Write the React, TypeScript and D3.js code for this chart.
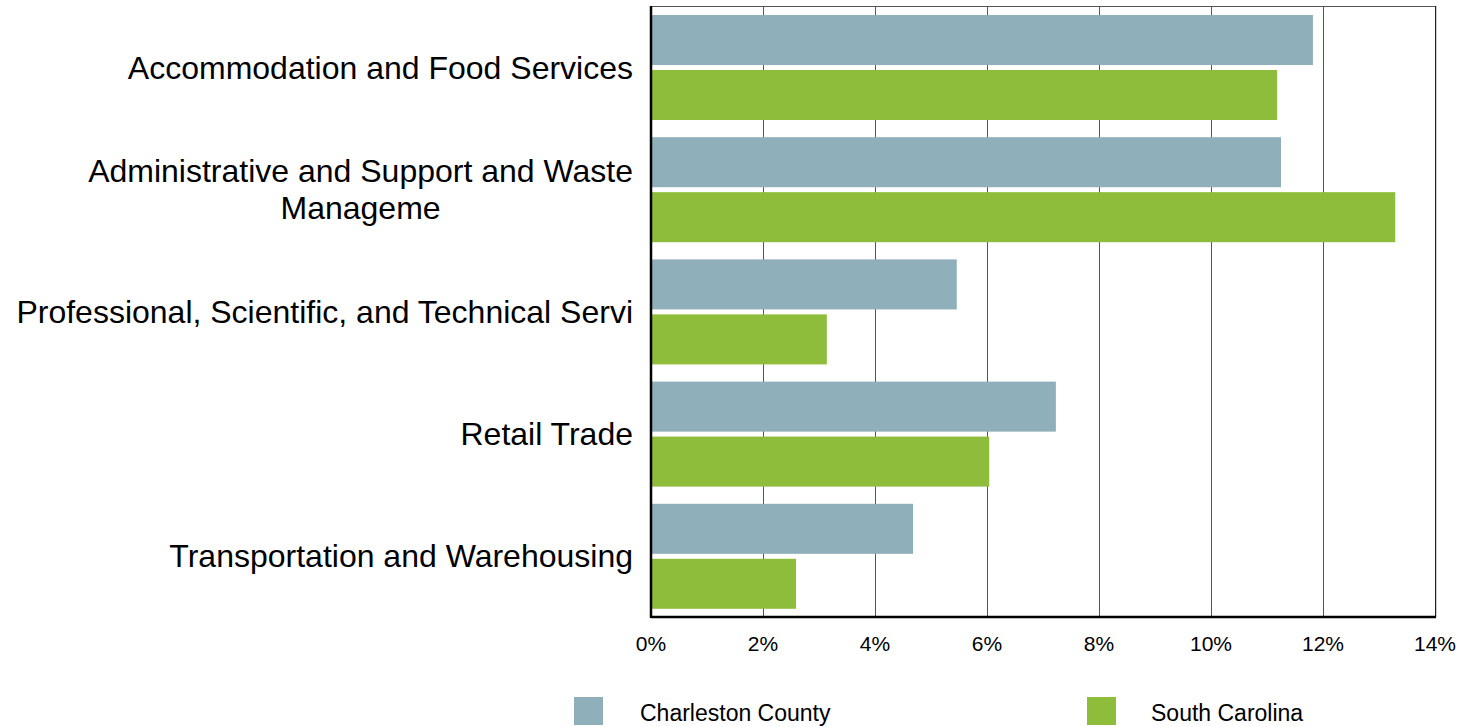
import React, { useEffect, useRef } from "react";
import * as d3 from "d3";

const categories: string[][] = [
  ["Accommodation and Food Services"],
  ["Administrative and Support and Waste", "Manageme"],
  ["Professional, Scientific, and Technical Servi"],
  ["Retail Trade"],
  ["Transportation and Warehousing"],
];
const seriesNames = ["Charleston County", "South Carolina"];
const charleston = [11.82, 11.25, 5.46, 7.23, 4.68];
const southCarolina = [11.18, 13.29, 3.14, 6.04, 2.59];
const xTicks = [0, 2, 4, 6, 8, 10, 12, 14];
const colors = ["#8fafba", "#8ebd3c"];

const W = 1473;
const H = 727;
const L = 651;
const R = 1435;
const T = 6;
const B = 617;
const FONT = "'Liberation Sans', Arial, sans-serif";

export default function App() {
  const ref = useRef<SVGSVGElement | null>(null);

  useEffect(() => {
    const svg = d3.select(ref.current);
    svg.selectAll("*").remove();

    const x = d3.scaleLinear().domain([0, 14]).range([L, R]);
    const y = d3
      .scaleBand<number>()
      .domain(categories.map((_, i) => i))
      .range([T, B])
      .padding(0);
    const inner = d3
      .scaleBand<number>()
      .domain([0, 1])
      .range([9, 114])
      .paddingInner(0.09)
      .paddingOuter(0);

    // grid
    svg
      .append("g")
      .selectAll("line")
      .data(xTicks.slice(1, -1))
      .join("line")
      .attr("x1", (d) => Math.round(x(d)) + 0.5)
      .attr("x2", (d) => Math.round(x(d)) + 0.5)
      .attr("y1", T)
      .attr("y2", B)
      .attr("stroke", "#555")
      .attr("stroke-width", 1);

    // frame top & right
    svg
      .append("line")
      .attr("x1", L)
      .attr("x2", R)
      .attr("y1", T + 0.5)
      .attr("y2", T + 0.5)
      .attr("stroke", "#555")
      .attr("stroke-width", 1);
    svg
      .append("line")
      .attr("x1", R + 1.5)
      .attr("x2", R + 1.5)
      .attr("y1", T)
      .attr("y2", B)
      .attr("stroke", "#ccc")
      .attr("stroke-width", 1);
    svg
      .append("line")
      .attr("x1", R + 0.5)
      .attr("x2", R + 0.5)
      .attr("y1", T)
      .attr("y2", B)
      .attr("stroke", "#222")
      .attr("stroke-width", 1);

    const series = [charleston, southCarolina];
    series.forEach((vals, si) => {
      svg
        .append("g")
        .selectAll("rect")
        .data(vals)
        .join("rect")
        .attr("x", L)
        .attr("y", (_, i) => (y(i) as number) + (inner(si) as number))
        .attr("width", (d) => x(d) - L)
        .attr("height", inner.bandwidth())
        .attr("fill", colors[si]);
    });

    // axes lines
    svg
      .append("line")
      .attr("x1", L)
      .attr("x2", L)
      .attr("y1", T)
      .attr("y2", B + 1)
      .attr("stroke", "#000")
      .attr("stroke-width", 2.5);
    svg
      .append("line")
      .attr("x1", L)
      .attr("x2", R + 1)
      .attr("y1", B)
      .attr("y2", B)
      .attr("stroke", "#000")
      .attr("stroke-width", 2.5);

    // tick labels
    svg
      .append("g")
      .selectAll("text")
      .data(xTicks)
      .join("text")
      .attr("x", (d) => x(d))
      .attr("y", 651)
      .attr("text-anchor", "middle")
      .attr("font-family", FONT)
      .attr("font-size", 21)
      .attr("fill", "#000")
      .text((d) => `${d}%`);

    // category labels
    const fs = 32;
    const lh = 37;
    categories.forEach((lines, i) => {
      const c = (y(i) as number) + y.bandwidth() / 2;
      const baseTop = c - ((lines.length - 1) * lh) / 2 + 11.4;
      const first = svg
        .append("text")
        .attr("x", 633)
        .attr("y", baseTop)
        .attr("text-anchor", "end")
        .attr("font-family", FONT)
        .attr("font-size", fs)
        .attr("fill", "#000")
        .text(lines[0]);
      if (lines.length > 1) {
        const w = (first.node() as SVGTextElement).getComputedTextLength();
        const cx = 633 - w / 2;
        lines.slice(1).forEach((ln, k) => {
          svg
            .append("text")
            .attr("x", cx)
            .attr("y", baseTop + (k + 1) * lh)
            .attr("text-anchor", "middle")
            .attr("font-family", FONT)
            .attr("font-size", fs)
            .attr("fill", "#000")
            .text(ln);
        });
      }
    });

    // legend
    const legendX = [574, 1087];
    const legendTextX = [640, 1151];
    seriesNames.forEach((name, i) => {
      svg
        .append("rect")
        .attr("x", legendX[i])
        .attr("y", 697)
        .attr("width", 29)
        .attr("height", 28)
        .attr("fill", colors[i]);
      svg
        .append("text")
        .attr("x", legendTextX[i])
        .attr("y", 721)
        .attr("font-family", FONT)
        .attr("font-size", 23)
        .attr("fill", "#000")
        .text(name);
    });
  }, []);

  return (
    <svg
      ref={ref}
      width={W}
      height={H}
      style={{ position: "absolute", left: 0, top: 0, background: "#fff" }}
    />
  );
}
